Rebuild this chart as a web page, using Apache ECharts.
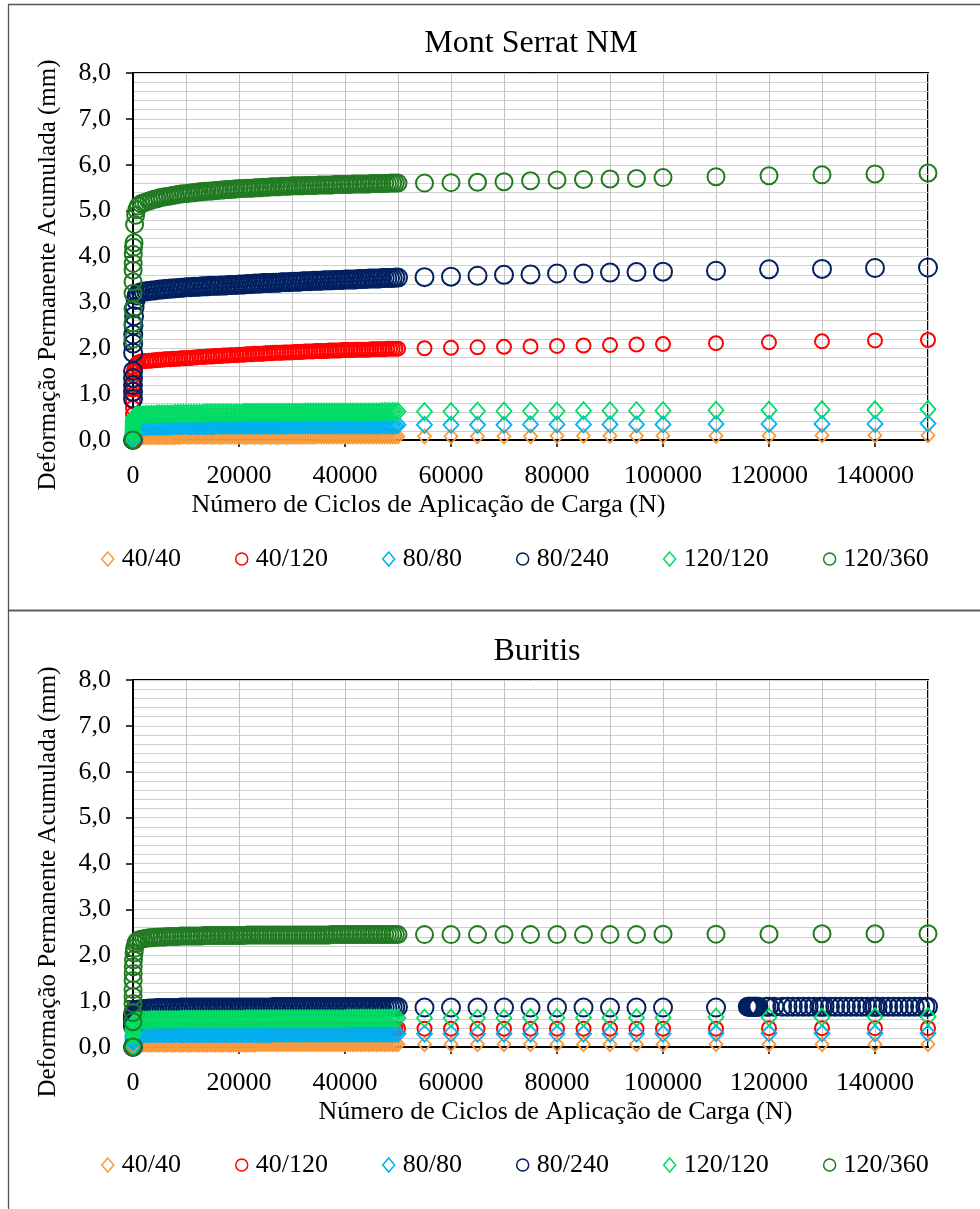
<!DOCTYPE html>
<html>
<head>
<meta charset="utf-8">
<title>Deformação Permanente Acumulada</title>
<script src="https://cdn.jsdelivr.net/npm/echarts@6/dist/echarts.min.js"></script>
<style>
  html, body { margin: 0; padding: 0; background: #ffffff; }
  #chart { width: 980px; height: 1209px; }
</style>
</head>
<body>
<div id="chart"></div>
<script>
// Load cycles N at which readings were taken (shared by all series)
const cycles = [
  0, 1, 2, 3, 5, 10, 20, 30, 50, 100, 200, 300, 500, 700, 1000,
  1500, 2000, 2500, 3000, 3500, 4000, 4500, 5000, 5500, 6000,
  6500, 7000, 7500, 8000, 8500, 9000, 9500, 10000, 10500, 11000,
  11500, 12000, 12500, 13000, 13500, 14000, 14500, 15000, 15500, 16000,
  16500, 17000, 17500, 18000, 18500, 19000, 19500, 20000, 20500, 21000,
  21500, 22000, 22500, 23000, 23500, 24000, 24500, 25000, 25500, 26000,
  26500, 27000, 27500, 28000, 28500, 29000, 29500, 30000, 30500, 31000,
  31500, 32000, 32500, 33000, 33500, 34000, 34500, 35000, 35500, 36000,
  36500, 37000, 37500, 38000, 38500, 39000, 39500, 40000, 40500, 41000,
  41500, 42000, 42500, 43000, 43500, 44000, 44500, 45000, 45500, 46000,
  46500, 47000, 47500, 48000, 48500, 49000, 49500, 50000,
  55000, 60000, 65000, 70000, 75000, 80000, 85000, 90000, 95000, 100000,
  110000, 120000, 130000, 140000, 150000
];

const seriesNames = ['40/40', '40/120', '80/80', '80/240', '120/120', '120/360'];
const xLabelValues = [0, 20000, 40000, 60000, 80000, 100000, 120000, 140000];
const yLabelValues = [0, 1, 2, 3, 4, 5, 6, 7, 8];

// ---------- Mont Serrat NM (mm) ----------
const ms40_40 = [
  0.00, 0.01, 0.02, 0.03, 0.03, 0.04, 0.04, 0.05, 0.05, 0.05, 0.06, 0.06, 0.06, 0.06, 0.06,
  0.06, 0.06, 0.06, 0.06, 0.06, 0.06, 0.06, 0.06, 0.06, 0.06,
  0.06, 0.06, 0.06, 0.06, 0.06, 0.07, 0.07, 0.07, 0.07, 0.07,
  0.07, 0.07, 0.07, 0.07, 0.07, 0.07, 0.07, 0.07, 0.07, 0.07,
  0.07, 0.07, 0.07, 0.07, 0.07, 0.07, 0.07, 0.07, 0.07, 0.07,
  0.07, 0.07, 0.07, 0.07, 0.07, 0.07, 0.07, 0.07, 0.07, 0.07,
  0.07, 0.07, 0.07, 0.07, 0.07, 0.07, 0.07, 0.07, 0.07, 0.07,
  0.07, 0.07, 0.07, 0.07, 0.07, 0.07, 0.08, 0.08, 0.08, 0.08,
  0.08, 0.08, 0.08, 0.08, 0.08, 0.08, 0.08, 0.08, 0.08, 0.08,
  0.08, 0.08, 0.08, 0.08, 0.08, 0.08, 0.08, 0.08, 0.08, 0.08,
  0.08, 0.08, 0.08, 0.08, 0.08, 0.08, 0.08, 0.08,
  0.08, 0.08, 0.08, 0.08, 0.08, 0.09, 0.09, 0.09, 0.09, 0.09, 0.09, 0.09, 0.10, 0.10, 0.10
];
const ms40_120 = [
  0.00, 0.35, 0.55, 0.70, 0.85, 1.00, 1.10, 1.20, 1.30, 1.40, 1.50, 1.55, 1.62, 1.66, 1.69,
  1.71, 1.72, 1.72, 1.73, 1.73, 1.74, 1.74, 1.75, 1.75, 1.76,
  1.76, 1.76, 1.77, 1.77, 1.77, 1.78, 1.78, 1.78, 1.79, 1.79,
  1.80, 1.80, 1.81, 1.81, 1.81, 1.82, 1.82, 1.82, 1.83, 1.83,
  1.83, 1.84, 1.84, 1.84, 1.85, 1.85, 1.85, 1.86, 1.86, 1.86,
  1.87, 1.87, 1.87, 1.88, 1.88, 1.88, 1.88, 1.89, 1.89, 1.89,
  1.90, 1.90, 1.90, 1.90, 1.91, 1.91, 1.91, 1.91, 1.92, 1.92,
  1.92, 1.92, 1.93, 1.93, 1.93, 1.93, 1.94, 1.94, 1.94, 1.94,
  1.94, 1.95, 1.95, 1.95, 1.95, 1.95, 1.96, 1.96, 1.96, 1.96,
  1.96, 1.97, 1.97, 1.97, 1.97, 1.97, 1.97, 1.98, 1.98, 1.98,
  1.98, 1.98, 1.98, 1.99, 1.99, 1.99, 1.99, 1.99,
  2.00, 2.01, 2.02, 2.03, 2.04, 2.05, 2.06, 2.07, 2.08, 2.09, 2.11, 2.13, 2.15, 2.17, 2.18
];
const ms80_80 = [
  0.00, 0.05, 0.08, 0.11, 0.14, 0.17, 0.20, 0.22, 0.24, 0.25, 0.26, 0.27, 0.27, 0.28, 0.28,
  0.28, 0.28, 0.28, 0.29, 0.29, 0.29, 0.29, 0.29, 0.29, 0.29,
  0.29, 0.29, 0.30, 0.30, 0.30, 0.30, 0.30, 0.30, 0.30, 0.30,
  0.30, 0.30, 0.30, 0.30, 0.30, 0.30, 0.30, 0.30, 0.31, 0.31,
  0.31, 0.31, 0.31, 0.31, 0.31, 0.31, 0.31, 0.31, 0.31, 0.31,
  0.31, 0.31, 0.31, 0.31, 0.31, 0.31, 0.31, 0.31, 0.31, 0.31,
  0.31, 0.31, 0.31, 0.31, 0.31, 0.31, 0.32, 0.32, 0.32, 0.32,
  0.32, 0.32, 0.32, 0.32, 0.32, 0.32, 0.32, 0.32, 0.32, 0.32,
  0.32, 0.32, 0.32, 0.32, 0.32, 0.32, 0.32, 0.32, 0.32, 0.32,
  0.32, 0.32, 0.32, 0.32, 0.32, 0.32, 0.32, 0.32, 0.32, 0.32,
  0.32, 0.32, 0.32, 0.32, 0.32, 0.32, 0.32, 0.33,
  0.33, 0.33, 0.33, 0.33, 0.34, 0.34, 0.34, 0.34, 0.34, 0.34, 0.35, 0.35, 0.35, 0.35, 0.36
];
const ms80_240 = [
  0.00, 0.90, 1.05, 1.20, 1.35, 1.50, 1.90, 2.10, 2.30, 2.50, 2.70, 2.90, 3.05, 3.15, 3.20,
  3.22, 3.23, 3.24, 3.25, 3.26, 3.26, 3.27, 3.28, 3.28, 3.29,
  3.29, 3.30, 3.30, 3.31, 3.31, 3.32, 3.32, 3.33, 3.33, 3.33,
  3.34, 3.34, 3.34, 3.35, 3.35, 3.35, 3.36, 3.36, 3.36, 3.36,
  3.37, 3.37, 3.37, 3.38, 3.38, 3.38, 3.38, 3.39, 3.39, 3.39,
  3.40, 3.40, 3.40, 3.41, 3.41, 3.41, 3.42, 3.42, 3.42, 3.42,
  3.43, 3.43, 3.43, 3.44, 3.44, 3.44, 3.44, 3.45, 3.45, 3.45,
  3.45, 3.46, 3.46, 3.46, 3.46, 3.47, 3.47, 3.47, 3.47, 3.48,
  3.48, 3.48, 3.48, 3.49, 3.49, 3.49, 3.49, 3.50, 3.50, 3.50,
  3.50, 3.50, 3.51, 3.51, 3.51, 3.51, 3.52, 3.52, 3.52, 3.52,
  3.52, 3.53, 3.53, 3.53, 3.53, 3.53, 3.54, 3.54,
  3.55, 3.56, 3.58, 3.60, 3.61, 3.63, 3.63, 3.65, 3.66, 3.67, 3.69, 3.72, 3.73, 3.75, 3.76
];
const ms120_120 = [
  0.00, 0.10, 0.15, 0.20, 0.25, 0.30, 0.35, 0.40, 0.43, 0.46, 0.49, 0.51, 0.53, 0.54, 0.55,
  0.55, 0.55, 0.56, 0.56, 0.56, 0.56, 0.57, 0.57, 0.57, 0.57,
  0.57, 0.57, 0.57, 0.58, 0.58, 0.58, 0.58, 0.58, 0.58, 0.58,
  0.58, 0.58, 0.58, 0.58, 0.59, 0.59, 0.59, 0.59, 0.59, 0.59,
  0.59, 0.59, 0.59, 0.59, 0.59, 0.59, 0.59, 0.59, 0.59, 0.60,
  0.60, 0.60, 0.60, 0.60, 0.60, 0.60, 0.60, 0.60, 0.60, 0.60,
  0.60, 0.60, 0.60, 0.60, 0.60, 0.60, 0.60, 0.60, 0.60, 0.60,
  0.60, 0.60, 0.61, 0.61, 0.61, 0.61, 0.61, 0.61, 0.61, 0.61,
  0.61, 0.61, 0.61, 0.61, 0.61, 0.61, 0.61, 0.61, 0.61, 0.61,
  0.61, 0.61, 0.61, 0.61, 0.61, 0.61, 0.61, 0.61, 0.61, 0.61,
  0.61, 0.62, 0.62, 0.62, 0.62, 0.62, 0.62, 0.62,
  0.62, 0.62, 0.63, 0.63, 0.63, 0.63, 0.64, 0.64, 0.64, 0.64, 0.65, 0.65, 0.66, 0.66, 0.67
];
const ms120_360 = [
  0.00, 2.20, 2.55, 2.85, 3.20, 3.45, 3.70, 3.85, 4.05, 4.20, 4.30, 4.70, 4.90, 5.02, 5.10,
  5.15, 5.17, 5.19, 5.21, 5.23, 5.25, 5.26, 5.28, 5.29, 5.30,
  5.31, 5.32, 5.33, 5.34, 5.35, 5.36, 5.37, 5.37, 5.38, 5.39,
  5.39, 5.40, 5.41, 5.41, 5.42, 5.42, 5.43, 5.43, 5.44, 5.44,
  5.45, 5.45, 5.46, 5.46, 5.46, 5.47, 5.47, 5.48, 5.48, 5.48,
  5.49, 5.49, 5.49, 5.50, 5.50, 5.50, 5.51, 5.51, 5.51, 5.52,
  5.52, 5.52, 5.52, 5.53, 5.53, 5.53, 5.53, 5.54, 5.54, 5.54,
  5.54, 5.54, 5.55, 5.55, 5.55, 5.55, 5.55, 5.56, 5.56, 5.56,
  5.56, 5.56, 5.56, 5.57, 5.57, 5.57, 5.57, 5.57, 5.57, 5.57,
  5.58, 5.58, 5.58, 5.58, 5.58, 5.58, 5.58, 5.59, 5.59, 5.59,
  5.59, 5.59, 5.59, 5.59, 5.60, 5.60, 5.60, 5.60,
  5.60, 5.61, 5.62, 5.63, 5.65, 5.67, 5.68, 5.69, 5.70, 5.72, 5.74, 5.76, 5.78, 5.80, 5.82
];

// ---------- Buritis (mm) ----------
const bu40_40 = [
  0.00, 0.01, 0.02, 0.02, 0.03, 0.03, 0.03, 0.04, 0.04, 0.04, 0.04, 0.05, 0.05, 0.05, 0.05,
  0.05, 0.05, 0.05, 0.05, 0.05, 0.05, 0.05, 0.05, 0.05, 0.05,
  0.05, 0.05, 0.05, 0.05, 0.05, 0.05, 0.05, 0.05, 0.05, 0.05,
  0.05, 0.05, 0.05, 0.05, 0.05, 0.05, 0.05, 0.05, 0.05, 0.05,
  0.05, 0.05, 0.05, 0.05, 0.05, 0.05, 0.05, 0.05, 0.05, 0.05,
  0.05, 0.05, 0.05, 0.05, 0.06, 0.06, 0.06, 0.06, 0.06, 0.06,
  0.06, 0.06, 0.06, 0.06, 0.06, 0.06, 0.06, 0.06, 0.06, 0.06,
  0.06, 0.06, 0.06, 0.06, 0.06, 0.06, 0.06, 0.06, 0.06, 0.06,
  0.06, 0.06, 0.06, 0.06, 0.06, 0.06, 0.06, 0.06, 0.06, 0.06,
  0.06, 0.06, 0.06, 0.06, 0.06, 0.06, 0.06, 0.06, 0.06, 0.06,
  0.06, 0.06, 0.06, 0.06, 0.06, 0.06, 0.06, 0.06,
  0.06, 0.06, 0.06, 0.06, 0.06, 0.06, 0.06, 0.06, 0.06, 0.06, 0.06, 0.06, 0.06, 0.06, 0.06
];
const bu40_120 = [
  0.00, 0.15, 0.20, 0.24, 0.27, 0.30, 0.32, 0.34, 0.35, 0.36, 0.37, 0.37, 0.38, 0.38, 0.38,
  0.38, 0.38, 0.38, 0.38, 0.38, 0.38, 0.38, 0.38, 0.38, 0.38,
  0.38, 0.38, 0.38, 0.38, 0.38, 0.38, 0.38, 0.38, 0.38, 0.38,
  0.38, 0.38, 0.38, 0.38, 0.38, 0.38, 0.38, 0.38, 0.38, 0.38,
  0.39, 0.39, 0.39, 0.39, 0.39, 0.39, 0.39, 0.39, 0.39, 0.39,
  0.39, 0.39, 0.39, 0.39, 0.39, 0.39, 0.39, 0.39, 0.39, 0.39,
  0.39, 0.39, 0.39, 0.39, 0.39, 0.39, 0.39, 0.39, 0.39, 0.39,
  0.39, 0.39, 0.39, 0.39, 0.39, 0.39, 0.39, 0.39, 0.39, 0.39,
  0.40, 0.40, 0.40, 0.40, 0.40, 0.40, 0.40, 0.40, 0.40, 0.40,
  0.40, 0.40, 0.40, 0.40, 0.40, 0.40, 0.40, 0.40, 0.40, 0.40,
  0.40, 0.40, 0.40, 0.40, 0.40, 0.40, 0.40, 0.40,
  0.40, 0.40, 0.40, 0.40, 0.40, 0.40, 0.40, 0.40, 0.40, 0.40, 0.40, 0.41, 0.41, 0.41, 0.41
];
const bu80_80 = [
  0.00, 0.10, 0.14, 0.17, 0.19, 0.21, 0.23, 0.24, 0.25, 0.26, 0.26, 0.27, 0.27, 0.27, 0.27,
  0.27, 0.27, 0.28, 0.28, 0.28, 0.28, 0.28, 0.28, 0.28, 0.28,
  0.28, 0.28, 0.28, 0.28, 0.28, 0.28, 0.28, 0.28, 0.28, 0.28,
  0.28, 0.28, 0.28, 0.28, 0.28, 0.28, 0.28, 0.28, 0.28, 0.28,
  0.28, 0.28, 0.28, 0.28, 0.28, 0.28, 0.28, 0.28, 0.28, 0.28,
  0.28, 0.28, 0.28, 0.28, 0.28, 0.28, 0.28, 0.28, 0.28, 0.28,
  0.29, 0.29, 0.29, 0.29, 0.29, 0.29, 0.29, 0.29, 0.29, 0.29,
  0.29, 0.29, 0.29, 0.29, 0.29, 0.29, 0.29, 0.29, 0.29, 0.29,
  0.29, 0.29, 0.29, 0.29, 0.29, 0.29, 0.29, 0.29, 0.29, 0.29,
  0.29, 0.29, 0.29, 0.29, 0.29, 0.29, 0.29, 0.29, 0.29, 0.29,
  0.29, 0.29, 0.29, 0.29, 0.29, 0.29, 0.29, 0.29,
  0.29, 0.29, 0.29, 0.29, 0.29, 0.29, 0.29, 0.29, 0.29, 0.29, 0.30, 0.30, 0.30, 0.30, 0.30
];
const bu80_240 = [
  0.00, 0.45, 0.50, 0.55, 0.60, 0.63, 0.66, 0.69, 0.72, 0.75, 0.77, 0.79, 0.80, 0.81, 0.82,
  0.82, 0.83, 0.83, 0.84, 0.84, 0.84, 0.85, 0.85, 0.85, 0.85,
  0.85, 0.85, 0.85, 0.85, 0.85, 0.86, 0.86, 0.86, 0.86, 0.86,
  0.86, 0.86, 0.86, 0.86, 0.86, 0.86, 0.86, 0.86, 0.86, 0.86,
  0.86, 0.86, 0.86, 0.86, 0.86, 0.86, 0.86, 0.86, 0.86, 0.86,
  0.86, 0.86, 0.86, 0.86, 0.86, 0.86, 0.86, 0.86, 0.86, 0.86,
  0.87, 0.87, 0.87, 0.87, 0.87, 0.87, 0.87, 0.87, 0.87, 0.87,
  0.87, 0.87, 0.87, 0.87, 0.87, 0.87, 0.87, 0.87, 0.87, 0.87,
  0.87, 0.87, 0.87, 0.87, 0.87, 0.87, 0.87, 0.87, 0.87, 0.87,
  0.87, 0.87, 0.87, 0.87, 0.87, 0.87, 0.87, 0.87, 0.87, 0.87,
  0.87, 0.87, 0.87, 0.87, 0.87, 0.87, 0.87, 0.87,
  0.86, 0.86, 0.86, 0.86, 0.86, 0.86, 0.86, 0.86, 0.86, 0.86, 0.86, 0.88, 0.88, 0.88, 0.88
];
// extra readings of the 80/240 test between 116000 and 150000 cycles
const bu80_240ExtraCycles = [
  116000, 116200, 116400, 116600, 116800, 117000, 117200, 117400, 117600, 117800,
  118000, 119500, 121000, 122500, 123500, 124500, 125500, 126500, 127500, 128500,
  129500, 130500, 131500, 132500, 133500, 134500, 135500, 136500, 137500, 138500,
  139500, 140500, 141500, 142500, 143500, 144500, 145500, 146500, 147500, 148500,
  149500
];
const bu80_240Extra = [
  0.88, 0.88, 0.88, 0.88, 0.88, 0.88, 0.88, 0.88, 0.88, 0.88,
  0.88, 0.88, 0.88, 0.88, 0.88, 0.88, 0.88, 0.88, 0.88, 0.88,
  0.88, 0.88, 0.88, 0.88, 0.88, 0.88, 0.88, 0.88, 0.88, 0.88,
  0.88, 0.88, 0.88, 0.88, 0.88, 0.88, 0.88, 0.88, 0.88, 0.88,
  0.88
];
const bu120_120 = [
  0.00, 0.25, 0.30, 0.35, 0.38, 0.41, 0.44, 0.46, 0.48, 0.50, 0.52, 0.54, 0.56, 0.57, 0.58,
  0.58, 0.59, 0.59, 0.59, 0.60, 0.60, 0.60, 0.60, 0.60, 0.60,
  0.60, 0.60, 0.60, 0.60, 0.60, 0.61, 0.61, 0.61, 0.61, 0.61,
  0.61, 0.61, 0.61, 0.61, 0.61, 0.61, 0.61, 0.61, 0.61, 0.61,
  0.61, 0.61, 0.61, 0.61, 0.61, 0.61, 0.61, 0.61, 0.61, 0.61,
  0.62, 0.62, 0.62, 0.62, 0.62, 0.62, 0.62, 0.62, 0.62, 0.62,
  0.62, 0.62, 0.62, 0.62, 0.62, 0.62, 0.62, 0.62, 0.62, 0.62,
  0.62, 0.62, 0.62, 0.62, 0.62, 0.62, 0.62, 0.62, 0.62, 0.62,
  0.62, 0.62, 0.62, 0.62, 0.62, 0.62, 0.62, 0.62, 0.63, 0.63,
  0.63, 0.63, 0.63, 0.63, 0.63, 0.63, 0.63, 0.63, 0.63, 0.63,
  0.63, 0.63, 0.63, 0.63, 0.63, 0.63, 0.63, 0.63,
  0.63, 0.63, 0.63, 0.63, 0.64, 0.64, 0.64, 0.64, 0.64, 0.64, 0.65, 0.65, 0.65, 0.66, 0.66
];
const bu120_360 = [
  0.00, 0.55, 0.75, 0.95, 1.10, 1.25, 1.45, 1.60, 1.75, 1.90, 2.05, 2.15, 2.25, 2.30, 2.33,
  2.35, 2.36, 2.37, 2.38, 2.38, 2.39, 2.39, 2.40, 2.40, 2.40,
  2.41, 2.41, 2.41, 2.41, 2.41, 2.42, 2.42, 2.42, 2.42, 2.42,
  2.42, 2.42, 2.42, 2.42, 2.43, 2.43, 2.43, 2.43, 2.43, 2.43,
  2.43, 2.43, 2.43, 2.43, 2.43, 2.43, 2.43, 2.43, 2.43, 2.43,
  2.44, 2.44, 2.44, 2.44, 2.44, 2.44, 2.44, 2.44, 2.44, 2.44,
  2.44, 2.44, 2.44, 2.44, 2.44, 2.44, 2.44, 2.44, 2.44, 2.44,
  2.44, 2.44, 2.44, 2.44, 2.44, 2.44, 2.44, 2.44, 2.44, 2.44,
  2.44, 2.44, 2.45, 2.45, 2.45, 2.45, 2.45, 2.45, 2.45, 2.45,
  2.45, 2.45, 2.45, 2.45, 2.45, 2.45, 2.45, 2.45, 2.45, 2.45,
  2.45, 2.45, 2.45, 2.45, 2.45, 2.45, 2.45, 2.45,
  2.45, 2.45, 2.45, 2.45, 2.45, 2.45, 2.45, 2.45, 2.45, 2.46, 2.46, 2.46, 2.47, 2.47, 2.47
];

// ---------- styling ----------
const FONT = '"Liberation Serif", "Times New Roman", serif';
const markers = {
  '40/40':   { symbol: 'diamond', size: [13, 14], color: '#F89A3C', width: 1.8 },
  '40/120':  { symbol: 'circle',  size: 14,       color: '#FF0000', width: 2 },
  '80/80':   { symbol: 'diamond', size: [15, 16], color: '#00B0F0', width: 1.8 },
  '80/240':  { symbol: 'circle',  size: 18,       color: '#002060', width: 2 },
  '120/120': { symbol: 'diamond', size: [15, 17], color: '#00DC64', width: 1.8 },
  '120/360': { symbol: 'circle',  size: 17,       color: '#217A21', width: 2 }
};

function pairs(xs, ys) {
  return xs.map(function (x, i) { return [x, ys[i]]; });
}

// Each grid carries two x and two y axes: one draws the gridlines (and holds the data),
// the other draws the axis line, ticks, labels and title.
function makeSeries(gridIndex, dataList) {
  return seriesNames.map(function (name, i) {
    const m = markers[name];
    return {
      name: name,
      type: 'scatter',
      xAxisIndex: gridIndex * 2,
      yAxisIndex: gridIndex * 2,
      symbol: m.symbol,
      symbolSize: m.size,
      clip: false,
      itemStyle: { color: 'transparent', borderColor: m.color, borderWidth: m.width, opacity: 1 },
      emphasis: { disabled: true },
      data: dataList[i]
    };
  });
}

const montSerratData = [ms40_40, ms40_120, ms80_80, ms80_240, ms120_120, ms120_360].map(function (ys) {
  return pairs(cycles, ys);
});
const buritisData = [bu40_40, bu40_120, bu80_80, bu80_240, bu120_120, bu120_360].map(function (ys) {
  return pairs(cycles, ys);
});
buritisData[3] = buritisData[3].concat(pairs(bu80_240ExtraCycles, bu80_240Extra));

function xGridAxis(gridIndex) {
  return {
    type: 'value', gridIndex: gridIndex, position: 'bottom',
    min: 0, max: 150000, interval: 10000,
    axisLine: { show: false }, axisTick: { show: false }, axisLabel: { show: false },
    splitLine: { show: true, lineStyle: { color: '#C4C4C4', width: 1 } }
  };
}
function xLabelAxis(gridIndex, namePadding) {
  return {
    type: 'value', gridIndex: gridIndex, position: 'bottom',
    min: 0, max: 150000, interval: 10000,
    name: 'Número de Ciclos de Aplicação de Carga (N)',
    nameLocation: 'middle',
    nameGap: 52,
    nameTextStyle: { fontFamily: FONT, fontSize: 26, color: '#000', padding: namePadding },
    axisLine: { show: true, onZero: false, lineStyle: { color: '#000', width: 2 } },
    axisTick: { show: true, customValues: xLabelValues, length: 7, lineStyle: { color: '#000', width: 1.5 } },
    axisLabel: {
      customValues: xLabelValues,
      formatter: function (v) { return String(v); },
      fontFamily: FONT, fontSize: 26, color: '#000', margin: 23
    },
    splitLine: { show: false }
  };
}
function yGridAxis(gridIndex) {
  return {
    type: 'value', gridIndex: gridIndex, position: 'left',
    min: 0, max: 8, interval: 0.2,
    axisLine: { show: false }, axisTick: { show: false }, axisLabel: { show: false },
    splitLine: { show: true, lineStyle: { color: '#D0D0D0', width: 1 } }
  };
}
function yLabelAxis(gridIndex) {
  return {
    type: 'value', gridIndex: gridIndex, position: 'left',
    min: 0, max: 8, interval: 1,
    name: 'Deformação Permanente Acumulada (mm)',
    nameLocation: 'middle',
    nameGap: 72,
    nameTextStyle: { fontFamily: FONT, fontSize: 25, color: '#000', padding: [0, 37, 0, 0] },
    axisLine: { show: true, onZero: false, lineStyle: { color: '#000', width: 2 } },
    axisTick: { show: true, customValues: yLabelValues, length: 7, lineStyle: { color: '#000', width: 1.5 } },
    axisLabel: {
      customValues: yLabelValues,
      formatter: function (v) { return v.toFixed(1).replace('.', ','); },
      fontFamily: FONT, fontSize: 26, color: '#000', margin: 22
    },
    splitLine: { show: false }
  };
}

function legendFor(top) {
  return {
    top: top,
    left: 101,
    padding: 0,
    itemGap: 54,
    itemWidth: 12,
    itemHeight: 14,
    selectedMode: false,
    itemStyle: { borderWidth: 1.5 },
    textStyle: { fontFamily: FONT, fontSize: 26, color: '#000', padding: [0, 0, 0, 3] },
    data: seriesNames.map(function (n) { return { name: n, icon: markers[n].symbol }; })
  };
}

const chart = echarts.init(document.getElementById('chart'), null, { renderer: 'canvas' });

chart.setOption({
  backgroundColor: '#ffffff',
  animation: false,
  title: [
    {
      text: 'Mont Serrat NM', left: 531, top: 28, textAlign: 'center', padding: 0,
      textStyle: { fontFamily: FONT, fontSize: 32, fontWeight: 'normal', color: '#000' }
    },
    {
      text: 'Buritis', left: 537, top: 636, textAlign: 'center', padding: 0,
      textStyle: { fontFamily: FONT, fontSize: 32, fontWeight: 'normal', color: '#000' }
    }
  ],
  legend: [legendFor(546), legendFor(1152)],
  grid: [
    { left: 133, top: 73, width: 795, height: 367, show: true, borderColor: '#000', borderWidth: 2, containLabel: false },
    { left: 133, top: 680, width: 795, height: 367, show: true, borderColor: '#000', borderWidth: 2, containLabel: false }
  ],
  xAxis: [xGridAxis(0), xLabelAxis(0, [0, 204, 0, 0]), xGridAxis(1), xLabelAxis(1, [0, 0, 0, 50])],
  yAxis: [yGridAxis(0), yLabelAxis(0), yGridAxis(1), yLabelAxis(1)],
  graphic: [
    {
      type: 'rect', silent: true, z: -10,
      shape: { x: 8.5, y: 4.5, width: 990, height: 606 },
      style: { fill: 'none', stroke: '#555555', lineWidth: 1.3 }
    },
    {
      type: 'rect', silent: true, z: -10,
      shape: { x: 8.5, y: 610.5, width: 990, height: 620 },
      style: { fill: 'none', stroke: '#555555', lineWidth: 1.3 }
    }
  ],
  series: makeSeries(0, montSerratData).concat(makeSeries(1, buritisData))
});
</script>
</body>
</html>
